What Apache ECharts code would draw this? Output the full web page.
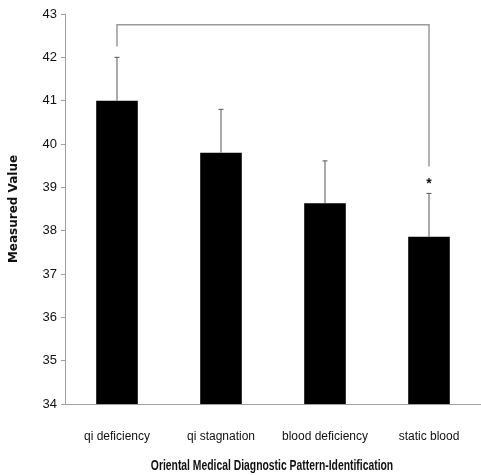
<!DOCTYPE html>
<html><head><meta charset="utf-8">
<script src="https://cdn.jsdelivr.net/npm/echarts@6/dist/echarts.min.js"></script>
<style>html,body{margin:0;padding:0;background:#fff}#c{width:481px;height:475px}</style>
</head><body><div id="c"></div>
<script>
var categories = ['qi deficiency', 'qi stagnation', 'blood deficiency', 'static blood'];
var means = [41.0, 39.8, 38.63, 37.86];
var errors = [1.0, 1.0, 0.98, 1.0];
var yTicks = [34, 35, 36, 37, 38, 39, 40, 41, 42, 43];
var xTitle = 'Oriental Medical Diagnostic Pattern-Identification';
var yTitle = 'Measured Value';
// significance bracket: [fromIndex, toIndex, topValue, leftEndValue, rightEndValue]
var bracket = [0, 3, 42.75, 42.25, 39.48];
var starPoint = [3, 39.12];

var chart = echarts.init(document.getElementById('c'), null, {renderer: 'canvas'});
var sans = '"Liberation Sans", Arial, sans-serif';
chart.setOption({
  animation: false,
  grid: {left: 65, width: 420, top: 14, height: 390, containLabel: false},
  graphic: [{
    type: 'text', x: 272, y: 466, scaleX: 0.74,
    style: {text: xTitle, fill: '#111', font: 'bold 14px "Liberation Sans", Arial, sans-serif',
      align: 'center', verticalAlign: 'middle'}
  }],
  xAxis: {
    type: 'category', data: categories,
    axisLine: {lineStyle: {color: '#a0a0a0', width: 1}},
    axisTick: {show: false},
    axisLabel: {color: '#111', fontFamily: sans, fontSize: 12, margin: 27, interval: 0}
  },
  yAxis: {
    type: 'value', min: yTicks[0], max: yTicks[yTicks.length - 1], interval: 1,
    splitLine: {show: false},
    axisLine: {show: true, lineStyle: {color: '#a0a0a0', width: 1}},
    axisTick: {show: true, length: 4, lineStyle: {color: '#a0a0a0'}},
    axisLabel: {color: '#111', fontFamily: sans, fontSize: 13, margin: 8},
    name: yTitle, nameLocation: 'middle', nameGap: 45,
    nameTextStyle: {color: '#111', fontFamily: '"DejaVu Sans", sans-serif', fontSize: 12, fontWeight: 'bold'}
  },
  series: [
    {
      type: 'bar', data: means, barWidth: '40%',
      itemStyle: {color: '#000'}, z: 2
    },
    {
      type: 'custom', z: 3,
      data: means.map(function (m, i) { return [i, m, m + errors[i]]; }),
      renderItem: function (params, api) {
        var p0 = api.coord([api.value(0), api.value(1)]);
        var p1 = api.coord([api.value(0), api.value(2)]);
        var st = {stroke: '#555', lineWidth: 1};
        return {type: 'group', children: [
          {type: 'line', shape: {x1: p0[0], y1: p0[1], x2: p1[0], y2: p1[1]}, style: st},
          {type: 'line', shape: {x1: p1[0] - 2.5, y1: p1[1], x2: p1[0] + 2.5, y2: p1[1]}, style: st}
        ]};
      }
    },
    {
      type: 'custom', z: 3,
      data: [bracket],
      renderItem: function (params, api) {
        var a = api.coord([api.value(0), api.value(2)]);
        var b = api.coord([api.value(1), api.value(2)]);
        var aEnd = api.coord([api.value(0), api.value(3)]);
        var bEnd = api.coord([api.value(1), api.value(4)]);
        return {type: 'polyline', shape: {points: [aEnd, a, b, bEnd]},
          style: {stroke: '#999', lineWidth: 1.5, fill: null}};
      }
    },
    {
      type: 'custom', z: 4,
      data: [starPoint],
      renderItem: function (params, api) {
        var p = api.coord([api.value(0), api.value(1)]);
        return {type: 'text', x: p[0], y: p[1] + 2,
          style: {text: '*', fill: '#111', font: 'bold 14px "Liberation Sans", sans-serif',
            align: 'center', verticalAlign: 'middle'}};
      }
    }
  ]
});
</script></body></html>
